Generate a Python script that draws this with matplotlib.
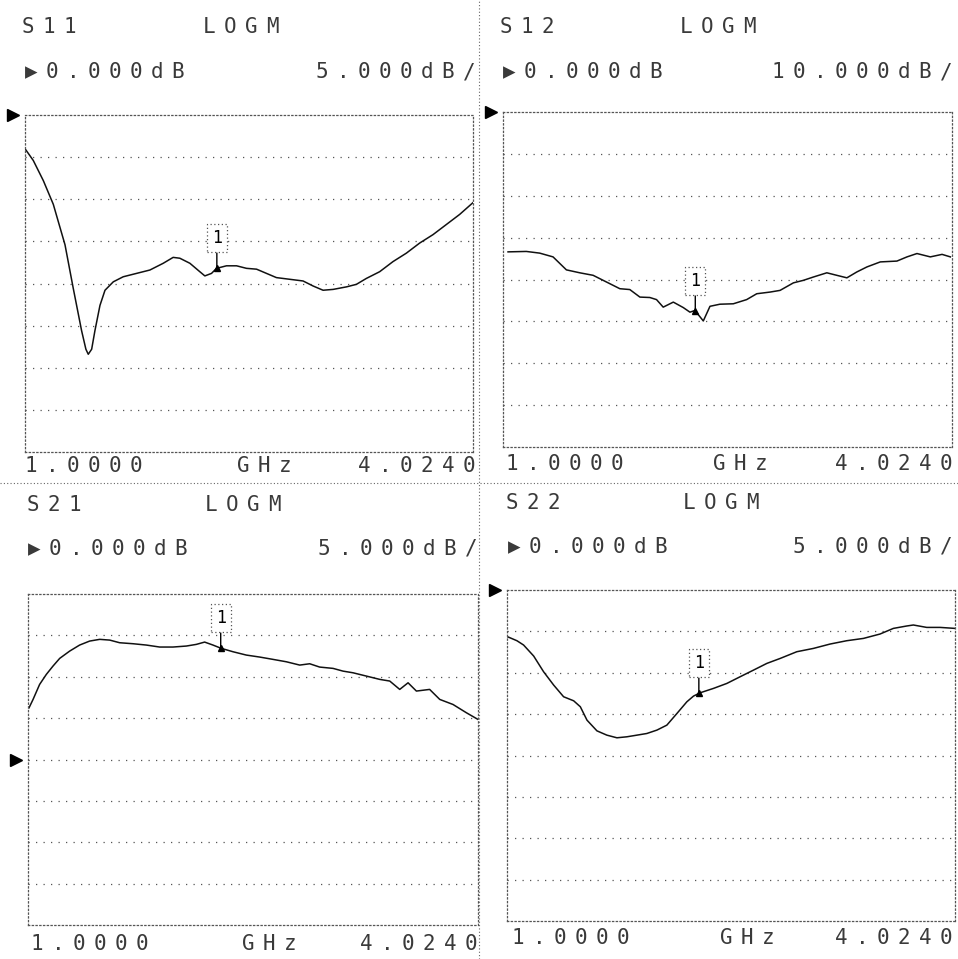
import numpy as np
import matplotlib
matplotlib.use("Agg")
import matplotlib.pyplot as plt
from matplotlib.lines import Line2D
from matplotlib.transforms import blended_transform_factory

W, H = 958, 959

# Frequency axis (GHz) and marker
f_start, f_stop = 1.0, 4.024
f_marker = 2.295

# S11 trace (GHz, dB)
s11_f = [1.000, 1.056, 1.124, 1.191, 1.270, 1.326, 1.382, 1.411, 1.427, 1.450,
         1.472, 1.506, 1.540, 1.596, 1.663, 1.753, 1.843, 1.933, 2.000, 2.045,
         2.113, 2.180, 2.214, 2.259, 2.293, 2.360, 2.428, 2.495, 2.563, 2.630,
         2.697, 2.787, 2.877, 2.945, 3.012, 3.080, 3.170, 3.237, 3.304, 3.394,
         3.484, 3.574, 3.664, 3.754, 3.844, 3.934, 4.024]
s11_db = [-4.0, -5.4, -7.8, -10.6, -15.4, -20.6, -25.6, -27.8, -28.4, -27.8,
          -25.6, -22.6, -20.8, -19.8, -19.2, -18.8, -18.4, -17.6, -16.9, -17.0,
          -17.6, -18.6, -19.1, -18.8, -18.2, -17.9, -17.9, -18.2, -18.3, -18.8,
          -19.3, -19.5, -19.7, -20.3, -20.8, -20.7, -20.4, -20.1, -19.4, -18.6,
          -17.4, -16.4, -15.2, -14.2, -13.0, -11.8, -10.4]

# S12 trace
s12_f = [1.034, 1.157, 1.247, 1.337, 1.427, 1.517, 1.607, 1.697, 1.787, 1.854,
         1.922, 1.989, 2.034, 2.079, 2.147, 2.214, 2.259, 2.293, 2.349, 2.394,
         2.461, 2.551, 2.641, 2.709, 2.799, 2.866, 2.956, 3.023, 3.091, 3.181,
         3.248, 3.316, 3.383, 3.451, 3.541, 3.653, 3.721, 3.788, 3.878, 3.957,
         4.013]
s12_db = [-33.4, -33.3, -33.7, -34.6, -37.7, -38.4, -39.0, -40.6, -42.2, -42.4,
          -44.2, -44.3, -44.8, -46.6, -45.4, -46.7, -47.8, -47.4, -49.9, -46.4,
          -45.9, -45.8, -44.8, -43.4, -43.0, -42.6, -40.8, -40.2, -39.4, -38.4,
          -39.0, -39.6, -38.2, -37.0, -35.8, -35.6, -34.6, -33.8, -34.6, -34.0,
          -34.6]

# S21 trace
s21_f = [1.007, 1.034, 1.078, 1.123, 1.168, 1.213, 1.280, 1.347, 1.414, 1.482,
         1.549, 1.616, 1.706, 1.795, 1.885, 1.974, 2.064, 2.131, 2.187, 2.243,
         2.299, 2.378, 2.467, 2.557, 2.646, 2.736, 2.826, 2.893, 2.960, 3.050,
         3.117, 3.184, 3.274, 3.364, 3.431, 3.498, 3.554, 3.610, 3.699, 3.767,
         3.856, 3.946, 4.024]
s21_db = [6.25, 7.26, 9.07, 10.28, 11.29, 12.22, 13.10, 13.83, 14.31, 14.52,
          14.43, 14.11, 13.99, 13.83, 13.59, 13.59, 13.71, 13.91, 14.19, 13.83,
          13.43, 13.02, 12.62, 12.38, 12.10, 11.81, 11.41, 11.57, 11.17, 11.01,
          10.68, 10.48, 10.08, 9.68, 9.48, 8.47, 9.27, 8.27, 8.47, 7.26,
          6.65, 5.65, 4.84]

# S22 trace
s22_f = [1.004, 1.067, 1.112, 1.180, 1.247, 1.315, 1.382, 1.450, 1.495, 1.540,
         1.607, 1.674, 1.742, 1.809, 1.877, 1.944, 2.012, 2.079, 2.147, 2.214,
         2.259, 2.304, 2.394, 2.484, 2.574, 2.664, 2.754, 2.844, 2.956, 3.068,
         3.181, 3.293, 3.406, 3.518, 3.608, 3.698, 3.743, 3.833, 3.923, 4.024]
s22_db = [-5.65, -6.13, -6.65, -7.98, -9.88, -11.49, -12.90, -13.39, -14.11, -15.73,
          -17.02, -17.54, -17.86, -17.74, -17.54, -17.34, -16.93, -16.33, -14.92, -13.51,
          -12.82, -12.42, -11.89, -11.29, -10.48, -9.68, -8.87, -8.27, -7.46, -7.06,
          -6.53, -6.13, -5.85, -5.32, -4.64, -4.35, -4.23, -4.52, -4.52, -4.64]

# per panel: scale (dB/div), reference position (division from top)
scales = [5.0, 10.0, 5.0, 5.0]
ref_div = [0, 0, 4, 0]
traces = [(s11_f, s11_db), (s12_f, s12_db), (s21_f, s21_db), (s22_f, s22_db)]

# plot boxes in pixels (x0, y0, x1, y1), y from top
boxes = [(25, 115, 473, 452), (503, 112, 952, 447),
         (28, 594, 478, 925), (507, 590, 955, 921)]

TXT = "#3a3a3a"
PITCH = 21.0


def fig_rect(b):
    x0, y0, x1, y1 = b
    return [x0 / W, 1 - y1 / H, (x1 - x0) / W, (y1 - y0) / H]


def printer_text(fig, x, y, s, align="left", size=15):
    # fixed-pitch printer text: one glyph per cell
    if align == "right":
        x = x - 12 - (len(s) - 1) * PITCH
    for i, ch in enumerate(s):
        fig.text((x + 6 + i * PITCH) / W, 1 - y / H, ch, ha="center", va="center",
                 fontsize=size, color=TXT,
                 family=["DejaVu Sans Mono", "DejaVu Sans"])


fig = plt.figure(figsize=(W / 100, H / 100), dpi=100)
fig.patch.set_facecolor("white")

for k in range(4):
    ax = fig.add_axes(fig_rect(boxes[k]))
    sc = scales[k]
    top = ref_div[k] * sc
    ax.set_xlim(f_start, f_stop)
    ax.set_ylim(top - 8 * sc, top)
    ax.set_xticks([])
    ax.set_yticks([])
    for sp in ax.spines.values():
        sp.set_linestyle((0, (1, 2)))
        sp.set_color("#555555")
        sp.set_linewidth(0.9)
    for d in range(1, 8):
        ax.axhline(top - d * sc, color="#555555", lw=0.9, ls=(0, (1, 5)))

    f, db = traces[k]
    ax.plot(f, db, color="#111111", lw=1.1)

    # reference arrow at 0 dB
    tr = blended_transform_factory(ax.transAxes, ax.transData)
    ax.plot([-0.027], [0.0], marker=">", ms=8, color="black", transform=tr,
            clip_on=False)

    # marker 1
    ym = np.interp(f_marker, f, db)
    ax.plot([f_marker], [ym], marker="^", ms=5, color="black")
    ax.annotate("1", xy=(f_marker, ym), xytext=(0, 30), textcoords="offset pixels",
                ha="center", va="center", fontsize=12, color="black",
                family="DejaVu Sans Mono",
                bbox=dict(boxstyle="square,pad=0.3", fc="white", ec="#555555",
                          ls=(0, (1, 2)), lw=0.9),
                arrowprops=dict(arrowstyle="-", color="black", lw=1.0,
                                shrinkA=0, shrinkB=0))

# header and footer text: (text, x, y, align)
labels = [
    ("S11", 22, 27, "left"), ("LOGM", 203, 27, "left"),
    ("▶0.000dB", 25, 72, "left"), ("5.000dB/", 475, 72, "right"),
    ("1.0000", 25, 466, "left"), ("GHz", 237, 466, "left"), ("4.0240", 475, 466, "right"),
    ("S12", 500, 27, "left"), ("LOGM", 680, 27, "left"),
    ("▶0.000dB", 503, 72, "left"), ("10.000dB/", 952, 72, "right"),
    ("1.0000", 506, 464, "left"), ("GHz", 713, 464, "left"), ("4.0240", 952, 464, "right"),
    ("S21", 27, 505, "left"), ("LOGM", 205, 505, "left"),
    ("▶0.000dB", 28, 549, "left"), ("5.000dB/", 477, 549, "right"),
    ("1.0000", 31, 944, "left"), ("GHz", 242, 944, "left"), ("4.0240", 477, 944, "right"),
    ("S22", 506, 503, "left"), ("LOGM", 683, 503, "left"),
    ("▶0.000dB", 508, 547, "left"), ("5.000dB/", 952, 547, "right"),
    ("1.0000", 512, 938, "left"), ("GHz", 720, 938, "left"), ("4.0240", 952, 938, "right"),
]
for s, x, y, al in labels:
    printer_text(fig, x, y, s, align=al)

# quadrant separators
fig.add_artist(Line2D([479 / W, 479 / W], [0, 1], transform=fig.transFigure,
                      color="#666666", lw=0.8, ls=(0, (1, 2))))
fig.add_artist(Line2D([0, 1], [1 - 483 / H, 1 - 483 / H], transform=fig.transFigure,
                      color="#666666", lw=0.8, ls=(0, (1, 2))))

fig.savefig("out.png", dpi=100, facecolor="white")
